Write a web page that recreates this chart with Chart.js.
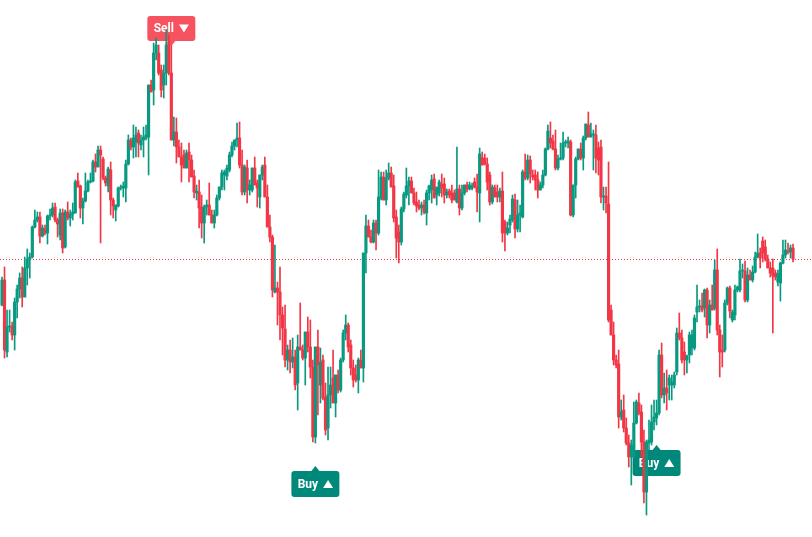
<!DOCTYPE html>
<html>
<head>
<meta charset="utf-8">
<script src="https://cdn.jsdelivr.net/npm/chart.js@4.4.1/dist/chart.umd.min.js"></script>
<style>
  html, body { margin: 0; padding: 0; background: #ffffff; }
  #wrap { position: relative; width: 812px; height: 537px; }
</style>
</head>
<body>
<div id="wrap"><canvas id="candles"></canvas></div>
<script>
// OHLC, one entry per candle, oldest first
const opens = [
  235,260,188,213,214,205,238,251,262,243,272,281,283,313,320,323,304,311,307,324,
  325,333,320,305,327,293,328,322,326,327,359,354,332,339,349,358,359,378,373,390,
  381,362,354,370,340,330,334,352,352,352,376,400,393,398,407,395,400,402,403,455,
  450,487,487,470,455,467,498,467,400,408,393,383,385,372,388,380,364,347,348,333,
  317,333,335,325,317,325,342,353,365,364,370,385,394,400,402,375,348,372,350,350,
  372,357,343,365,375,343,313,303,248,252,248,225,211,180,190,178,183,157,193,190,
  182,208,193,173,103,193,155,180,143,112,145,162,137,165,150,180,207,215,195,172,
  165,160,180,172,287,314,303,298,317,307,342,363,340,362,367,354,323,308,298,331,
  345,354,359,347,338,335,332,335,327,347,350,361,345,347,356,356,345,349,347,347,338,351,
  332,347,355,351,352,358,353,347,382,382,376,365,338,352,348,343,349,318,307,315,
  320,340,311,325,323,368,362,380,365,365,360,350,355,365,391,402,399,391,372,381,
  382,397,397,398,325,355,381,391,382,402,415,403,405,405,392,393,343,344,336,230,205,
  180,176,123,130,112,97,83,83,117,137,128,98,48,97,98,118,122,127,
  185,145,152,155,155,155,168,207,202,188,180,185,192,192,228,233,234,232,250,215,
  235,232,270,210,190,190,237,252,220,225,250,250,269,269,240,265,260,268,283,287,299,
  293,281,272,272,267,258,257,277,285,289,288,292
];
const highs = [
  263,273,230,230,218,242,255,267,273,283,291,287,314,330,328,328,315,315,325,331,
  337,337,322,331,331,330,338,330,337,360,367,355,342,367,360,367,380,386,394,394,
  383,364,373,378,342,335,353,355,358,380,405,402,415,413,410,405,413,415,455,460,
  497,502,495,475,475,510,505,495,423,422,400,397,390,390,397,385,370,355,360,345,
  335,340,357,330,330,345,353,370,370,375,388,398,400,417,418,390,375,380,360,372,
  383,360,365,375,383,355,325,305,295,258,273,233,235,195,200,202,190,205,237,195,
  208,223,220,180,193,210,192,185,157,173,173,190,165,170,182,210,225,217,200,180,
  175,182,190,287,325,320,310,320,320,370,368,368,370,377,373,365,330,315,333,348,
  372,363,363,352,348,340,338,340,350,355,365,366,352,360,366,362,351,351,355,350,393,355,
  355,355,358,358,357,362,366,392,388,386,382,368,355,355,355,352,368,320,318,325,
  345,346,340,335,370,386,385,384,370,370,368,358,370,392,415,418,405,410,385,397,
  408,400,403,400,355,383,391,397,404,416,428,417,410,415,398,400,353,353,378,235,218,
  185,190,140,145,122,105,100,138,140,147,135,110,100,120,135,140,140,190,
  197,167,170,165,165,168,212,227,210,198,185,208,210,225,255,240,247,251,252,240,
  255,280,291,215,205,240,253,254,230,255,254,281,276,279,272,270,274,288,306,292,303,
  300,285,278,281,270,270,278,300,300,297,295,296
];
const lows = [
  234,182,183,208,200,190,222,242,233,243,255,262,282,312,318,297,303,305,296,320,
  323,318,303,300,287,292,320,314,320,327,353,322,316,338,348,357,358,368,373,297,
  360,354,348,325,322,319,333,350,343,338,375,390,382,383,383,390,383,400,365,448,
  435,480,465,443,442,455,465,400,394,377,383,358,372,372,358,363,342,340,312,302,
  297,325,325,317,312,324,340,350,350,360,368,383,390,393,372,345,345,337,345,348,
  355,333,332,360,343,313,298,243,247,215,200,185,173,170,167,172,150,130,190,180,
  155,188,162,98,97,125,137,140,105,100,132,137,123,147,148,178,200,188,165,153,
  158,147,172,158,267,303,297,297,290,305,340,340,335,360,353,318,282,277,295,328,
  342,335,347,335,328,330,325,326,315,340,337,342,335,344,343,337,342,342,337,340,337,325,
  330,345,348,350,350,352,328,318,375,375,350,335,336,343,338,338,298,289,305,307,
  318,302,308,308,322,360,360,357,360,350,342,350,352,364,390,392,390,370,370,380,
  380,393,392,324,323,342,380,380,370,400,403,403,370,367,365,337,330,327,218,205,175,
  172,112,120,108,95,73,55,82,116,125,83,37,25,90,95,110,115,125,
  142,137,130,140,140,152,165,200,177,165,167,177,185,190,218,228,228,223,202,207,
  230,230,205,163,173,188,235,222,218,220,248,248,262,238,238,260,258,267,282,272,278,
  279,272,263,207,260,254,239,276,282,286,282,278
];
const closes = [
  260,190,213,214,205,238,251,262,243,272,281,283,313,320,323,304,312,307,324,325,
  332,320,316,327,292,328,322,326,328,358,353,332,339,349,358,359,378,373,390,385,
  362,357,371,340,334,335,352,353,354,376,400,393,402,405,397,400,403,405,455,448,
  487,495,467,450,467,495,467,400,408,393,383,375,372,387,380,363,348,349,332,317,
  333,335,325,317,325,342,353,367,368,372,385,394,400,402,375,348,373,350,355,372,
  355,352,365,373,343,313,303,250,252,248,225,212,180,190,178,183,155,193,190,182,
  208,193,173,103,193,175,178,142,110,145,155,137,165,150,180,207,215,193,172,160,
  160,180,172,287,314,303,298,317,307,343,363,340,362,367,353,322,302,298,331,346,
  354,359,347,337,334,332,335,328,347,354,360,342,353,358,352,345,348,345,340,340,351,332,
  347,355,351,355,354,353,348,386,375,376,358,338,353,343,343,349,307,307,312,321,
  341,311,325,327,368,362,380,366,363,360,350,355,365,391,409,397,391,372,381,382,
  397,397,399,325,355,381,391,382,402,416,403,406,406,382,380,343,344,337,220,205,180,
  175,123,128,112,97,83,95,117,138,127,98,48,98,100,118,123,127,185,
  145,152,147,162,158,165,207,202,180,180,184,205,205,222,233,234,230,250,215,235,
  230,270,210,188,188,237,252,229,228,250,253,269,270,240,265,260,268,283,287,282,287,
  281,272,267,264,263,266,277,285,290,288,292,281
];

// trade markers: candle index, price at the tip of the pointer, text
const markerIndex = [67, 124, 259];
const markerPrice = [494, 74, 95];
const markerText = ['Sell', 'Buy', 'Buy'];
const markerSide = ['above', 'below', 'below'];

const UP = '#089981';
const DOWN = '#f23645';

const candleColor = opens.map((o, i) => closes[i] >= o ? UP : DOWN);
const wicks = lows.map((l, i) => ({ x: i, y: [l, highs[i]] }));
const bodies = opens.map((o, i) => ({ x: i, y: [o, closes[i]] }));

// labels and the last price line sit underneath the candles
const overlayPlugin = {
  id: 'overlay',
  beforeDatasetsDraw(chart) {
    const { ctx, scales: { x, y }, chartArea } = chart;
    ctx.save();

    // last price, dotted
    const py = Math.round(y.getPixelForValue(closes[closes.length - 1])) + 0.5;
    ctx.strokeStyle = DOWN;
    ctx.lineWidth = 1;
    ctx.setLineDash([1, 2]);
    ctx.beginPath();
    ctx.moveTo(chartArea.left, py);
    ctx.lineTo(chartArea.right, py);
    ctx.stroke();
    ctx.setLineDash([]);

    ctx.font = 'bold 12px Roboto, "Open Sans", sans-serif';
    ctx.textBaseline = 'middle';
    ctx.textAlign = 'left';
    markerIndex.forEach((idx, k) => {
      const tx = x.getPixelForValue(idx);
      const ty = y.getPixelForValue(markerPrice[k]);
      const sell = markerSide[k] === 'above';
      const w = 48, h = sell ? 25 : 26, r = 3, ph = 5;
      const bx = tx - w / 2;
      const by = sell ? ty - ph - h : ty + ph;
      ctx.fillStyle = sell ? '#f7525f' : '#00897b';
      ctx.beginPath();
      ctx.roundRect(bx, by, w, h, r);
      ctx.fill();
      ctx.beginPath();
      if (sell) {
        ctx.moveTo(tx - 4, by + h);
        ctx.lineTo(tx, ty);
        ctx.lineTo(tx + 4, by + h);
      } else {
        ctx.moveTo(tx - 4, by);
        ctx.lineTo(tx, ty);
        ctx.lineTo(tx + 4, by);
      }
      ctx.fill();

      // text then the little arrow
      const tw = ctx.measureText(markerText[k]).width;
      const aw = 10, ah = 8, gap = 5;
      const sx = tx - (tw + gap + aw) / 2;
      const cy = by + h / 2;
      ctx.fillStyle = '#ffffff';
      ctx.fillText(markerText[k], sx, cy + 0.5);
      const ax = sx + tw + gap;
      ctx.beginPath();
      if (sell) {
        ctx.moveTo(ax, cy - ah / 2);
        ctx.lineTo(ax + aw, cy - ah / 2);
        ctx.lineTo(ax + aw / 2, cy + ah / 2);
      } else {
        ctx.moveTo(ax, cy + ah / 2);
        ctx.lineTo(ax + aw, cy + ah / 2);
        ctx.lineTo(ax + aw / 2, cy - ah / 2);
      }
      ctx.closePath();
      ctx.fill();
    });
    ctx.restore();
  }
};

new Chart(document.getElementById('candles'), {
  type: 'bar',
  data: {
    datasets: [
      {
        label: 'wick',
        data: wicks,
        backgroundColor: candleColor,
        barThickness: 1,
        grouped: false,
        minBarLength: 1,
        order: 2
      },
      {
        label: 'body',
        data: bodies,
        backgroundColor: candleColor,
        barThickness: 2.5,
        grouped: false,
        minBarLength: 1,
        order: 1
      }
    ]
  },
  options: {
    responsive: true,
    maintainAspectRatio: false,
    animation: false,
    layout: { padding: 0 },
    plugins: {
      legend: { display: false },
      tooltip: { enabled: false }
    },
    scales: {
      x: {
        type: 'linear',
        min: -0.79,
        max: 320.5,
        offset: false,
        display: false
      },
      y: {
        min: 3,
        max: 540,
        display: false
      }
    }
  },
  plugins: [overlayPlugin]
});
</script>
</body>
</html>
